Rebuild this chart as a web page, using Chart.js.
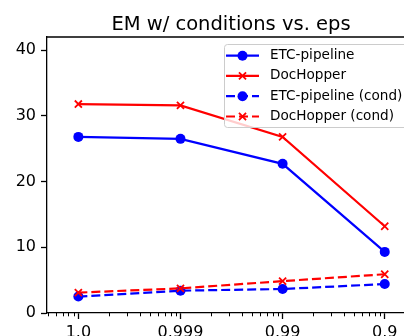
<!DOCTYPE html>
<html>
<head>
<meta charset="utf-8">
<script src="https://cdn.jsdelivr.net/npm/chart.js@4"></script>
<style>
  html, body { margin: 0; padding: 0; background: #fff; overflow: hidden; width: 404px; height: 336px; }
  #wrap { position: absolute; left: 0; top: 0; width: 462px; height: 345px; }
</style>
</head>
<body>
<div id="wrap"><canvas id="c" width="462" height="345"></canvas></div>
<script>
// ---- data ----
const categories = ['1.0', '0.999', '0.99', '0.9'];
const seriesNames = ['ETC-pipeline', 'DocHopper', 'ETC-pipeline (cond)', 'DocHopper (cond)'];
const etcPipeline = [26.8, 26.5, 22.7, 9.3];
const docHopper = [31.8, 31.6, 26.8, 13.2];
const etcPipelineCond = [2.5, 3.4, 3.65, 4.4];
const docHopperCond = [3.1, 3.75, 4.85, 5.9];
const yTicks = [0, 10, 20, 30, 40];

const FONT = 'DejaVu Sans';
const BLUE = '#0000ff', RED = '#ff0000';
const DASH = [9, 4];

function pts(arr) { return arr.map((v, i) => ({ x: i, y: v })); }

const styles = [
  { color: BLUE, point: 'circle', dash: [] },
  { color: RED, point: 'crossRot', dash: [] },
  { color: BLUE, point: 'circle', dash: DASH },
  { color: RED, point: 'crossRot', dash: DASH }
];
const values = [etcPipeline, docHopper, etcPipelineCond, docHopperCond];

const datasets = values.map((arr, i) => ({
  label: seriesNames[i],
  data: pts(arr),
  borderColor: styles[i].color,
  backgroundColor: styles[i].color,
  borderWidth: 2.2,
  borderDash: styles[i].dash,
  pointStyle: styles[i].point,
  pointRadius: 5,
  pointBorderWidth: styles[i].point === 'circle' ? 0 : 1.8,
  pointBorderColor: styles[i].color,
  pointBackgroundColor: styles[i].color,
  tension: 0,
  fill: false,
  order: 3 - i,
  clip: false
}));

const extras = {
  id: 'extras',
  afterDraw(chart) {
    const ctx = chart.ctx;
    const a = chart.chartArea;
    const xs = chart.scales.x;
    ctx.save();
    // top and right spines (right spine at x = 3.307)
    const rightPx = xs.getPixelForValue(3.307);
    ctx.strokeStyle = '#000';
    ctx.lineWidth = 1.3;
    ctx.beginPath();
    ctx.moveTo(a.left, a.top);
    ctx.lineTo(rightPx, a.top);
    ctx.lineTo(rightPx, a.bottom);
    ctx.stroke();
    // minor ticks on x (log-like)
    ctx.lineWidth = 1;
    ctx.beginPath();
    for (let d = -1; d < categories.length; d++) {
      for (let k = 2; k <= 9; k++) {
        const v = d + Math.log10(k);
        if (v <= xs.min || v >= 3.307) continue;
        const px = Math.round(xs.getPixelForValue(v)) + 0.5;
        ctx.moveTo(px, a.bottom);
        ctx.lineTo(px, a.bottom + 3.3);
      }
    }
    ctx.stroke();

    // legend
    const bx = 224.5, by = 44.5, bw = 240, bh = 83;
    ctx.fillStyle = 'rgba(255,255,255,0.8)';
    ctx.strokeStyle = '#cccccc';
    ctx.lineWidth = 1;
    ctx.beginPath();
    ctx.roundRect(bx, by, bw, bh, 3);
    ctx.fill();
    ctx.stroke();
    const rowY = [55.7, 75.9, 96.2, 116.5];
    chart.data.datasets.forEach((ds, i) => {
      const y = rowY[i];
      ctx.strokeStyle = ds.borderColor;
      ctx.lineWidth = ds.borderWidth;
      ctx.setLineDash(ds.borderDash);
      ctx.beginPath();
      ctx.moveTo(226, y);
      ctx.lineTo(259, y);
      ctx.stroke();
      ctx.setLineDash([]);
      const cx = 242.5;
      if (ds.pointStyle === 'circle') {
        ctx.fillStyle = ds.backgroundColor;
        ctx.beginPath();
        ctx.arc(cx, y, 5, 0, Math.PI * 2);
        ctx.fill();
      } else {
        ctx.strokeStyle = ds.borderColor;
        ctx.lineWidth = 1.8;
        const r = 5 * Math.SQRT1_2;
        ctx.beginPath();
        ctx.moveTo(cx - r, y - r); ctx.lineTo(cx + r, y + r);
        ctx.moveTo(cx - r, y + r); ctx.lineTo(cx + r, y - r);
        ctx.stroke();
      }
      ctx.fillStyle = '#000';
      ctx.font = '13.6px "' + FONT + '"';
      ctx.textAlign = 'left';
      ctx.textBaseline = 'middle';
      ctx.fillText(ds.label, 270, y);
    });
    ctx.restore();
  }
};

new Chart(document.getElementById('c'), {
  type: 'line',
  data: { datasets },
  options: {
    responsive: false,
    devicePixelRatio: 1,
    animation: false,
    layout: { padding: { left: 0, right: 0, top: 0, bottom: 0 } },
    plugins: {
      legend: { display: false },
      tooltip: { enabled: false },
      title: {
        display: true,
        text: 'EM w/ conditions vs. eps',
        color: '#000',
        font: { family: FONT, size: 19.5, weight: 'normal', lineHeight: 1.2 },
        padding: { top: 13, bottom: 0.6 }
      }
    },
    scales: {
      x: {
        type: 'linear',
        min: -0.307,
        max: 3.69,
        afterBuildTicks(s) { s.ticks = categories.map((c, i) => ({ value: i })); },
        afterFit(s) { s.height = 32; },
        ticks: {
          callback: (v) => categories[v] !== undefined ? categories[v] : '',
          color: '#000',
          font: { family: FONT, size: 16 },
          padding: 4,
          maxRotation: 0,
          autoSkip: false
        },
        grid: { drawOnChartArea: false, tickLength: 6, tickColor: '#000', tickWidth: 1.3 },
        border: { display: true, color: '#000', width: 1.3 }
      },
      y: {
        type: 'linear',
        min: 0,
        max: 42,
        afterBuildTicks(s) { s.ticks = yTicks.map(v => ({ value: v })); },
        afterFit(s) { s.width = 47; },
        ticks: {
          color: '#000',
          font: { family: FONT, size: 16 },
          padding: 5
        },
        grid: { drawOnChartArea: false, tickLength: 6, tickColor: '#000', tickWidth: 1.3 },
        border: { display: true, color: '#000', width: 1.3 }
      }
    }
  },
  plugins: [extras]
});
</script>
</body>
</html>
